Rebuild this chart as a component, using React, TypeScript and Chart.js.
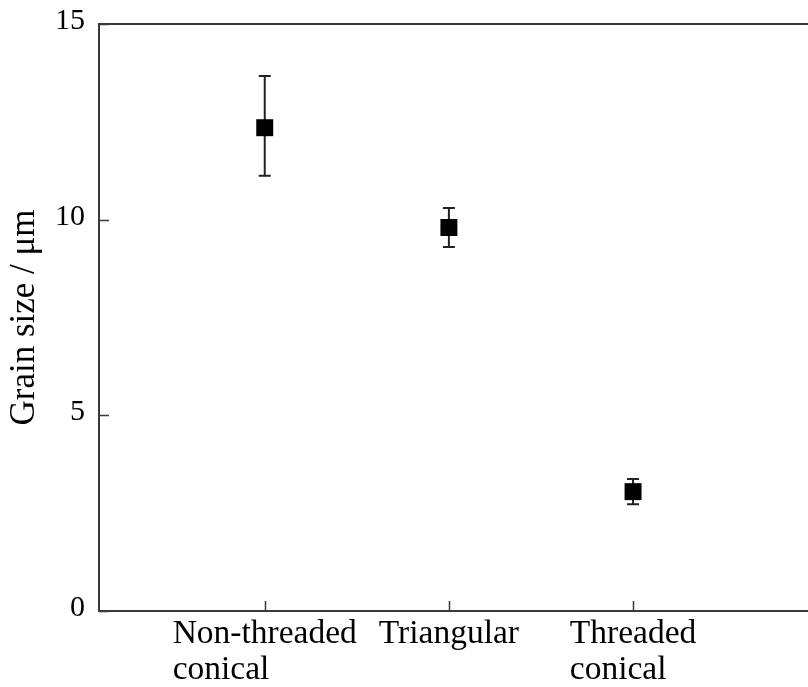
import React, { useEffect, useRef } from "react";
import { Chart, registerables } from "chart.js";

Chart.register(...registerables);

const categories: string[][] = [["Non-threaded", "conical"], ["Triangular"], ["Threaded", "conical"]];
const categoryPositions = [1, 2, 3];
const grainSize = [12.35, 9.8, 3.05];
const errorUpper = [13.67, 10.3, 3.37];
const errorLower = [11.12, 9.3, 2.73];
const yTicks = [0, 5, 10, 15];

const SERIF = "'Liberation Serif', 'Times New Roman', serif";
const AXIS_COLOR = "#3a3a3a";

const framePlugin = {
  id: "frameAndExtras",
  beforeDatasetsDraw(chart: any) {
    const { ctx, scales } = chart;
    const x = scales.x;
    const y = scales.y;
    ctx.save();
    ctx.strokeStyle = "#222";
    ctx.lineWidth = 2;
    for (let i = 0; i < grainSize.length; i++) {
      const px = x.getPixelForValue(categoryPositions[i]);
      const top = y.getPixelForValue(errorUpper[i]);
      const bot = y.getPixelForValue(errorLower[i]);
      ctx.beginPath();
      ctx.moveTo(px, top);
      ctx.lineTo(px, bot);
      ctx.moveTo(px - 6, top);
      ctx.lineTo(px + 6, top);
      ctx.moveTo(px - 6, bot);
      ctx.lineTo(px + 6, bot);
      ctx.stroke();
    }
    ctx.restore();
  },
  afterDraw(chart: any) {
    const { ctx, chartArea, scales } = chart;
    const x = scales.x;
    const y = scales.y;
    const { left, right, top, bottom } = chartArea;
    ctx.save();
    ctx.strokeStyle = AXIS_COLOR;
    ctx.lineWidth = 2;
    ctx.beginPath();
    ctx.moveTo(left, bottom);
    ctx.lineTo(left, top);
    ctx.lineTo(right + 2, top);
    ctx.moveTo(left - 1, bottom);
    ctx.lineTo(right + 2, bottom);
    ctx.stroke();
    ctx.lineWidth = 1.5;
    ctx.beginPath();
    for (const p of categoryPositions) {
      const px = Math.round(x.getPixelForValue(p)) + 0.5;
      ctx.moveTo(px, bottom);
      ctx.lineTo(px, bottom - 10);
    }
    for (const t of yTicks) {
      const py = Math.round(y.getPixelForValue(t)) + 0.5;
      ctx.moveTo(left, py);
      ctx.lineTo(left + 10, py);
    }
    ctx.stroke();
    ctx.fillStyle = "#000";
    ctx.font = `33.5px ${SERIF}`;
    ctx.textAlign = "left";
    ctx.textBaseline = "alphabetic";
    for (let i = 0; i < categories.length; i++) {
      const lines = categories[i];
      const px = x.getPixelForValue(categoryPositions[i]);
      const w = ctx.measureText(lines[0]).width;
      const startX = px - w / 2;
      lines.forEach((line, j) => {
        ctx.fillText(line, startX, bottom + 32 + j * 36);
      });
    }
    ctx.restore();
  },
};

export default function App() {
  const canvasRef = useRef<HTMLCanvasElement | null>(null);

  useEffect(() => {
    const canvas = canvasRef.current;
    if (!canvas) return;
    const chart = new Chart(canvas, {
      type: "scatter",
      data: {
        datasets: [
          {
            data: grainSize.map((v, i) => ({ x: categoryPositions[i], y: v })),
            pointStyle: "rect",
            pointRadius: 12,
            pointHoverRadius: 12,
            backgroundColor: "#000",
            borderColor: "#000",
            borderWidth: 0,
          },
        ],
      },
      options: {
        animation: false,
        responsive: false,
        maintainAspectRatio: false,
        layout: { autoPadding: false, padding: { top: 24, bottom: 76, left: 0, right: 0 } },
        plugins: {
          legend: { display: false },
          tooltip: { enabled: false },
        },
        scales: {
          x: {
            type: "linear",
            display: false,
            min: 0.1,
            max: 3.95,
          },
          y: {
            type: "linear",
            min: 0,
            max: 15,
            afterFit: (scale: any) => {
              scale.width = 99;
              scale.paddingTop = 0;
              scale.paddingBottom = 0;
            },
            afterBuildTicks: (scale: any) => {
              scale.ticks = yTicks.map((v) => ({ value: v }));
            },
            grid: { display: false, drawTicks: false },
            border: { display: false },
            ticks: {
              color: "#000",
              padding: 14,
              labelOffset: -3,
              font: { family: SERIF, size: 30 },
            },
            title: {
              display: true,
              text: "Grain size / μm",
              color: "#000",
              font: { family: SERIF, size: 35 },
              padding: { top: 4, bottom: 0 },
            },
          },
        },
      },
      plugins: [framePlugin],
    });
    return () => chart.destroy();
  }, []);

  return (
    <div style={{ position: "fixed", left: 0, top: 0, width: 808, height: 687, background: "#fff" }}>
      <canvas ref={canvasRef} width={808} height={687} style={{ display: "block" }} />
    </div>
  );
}
